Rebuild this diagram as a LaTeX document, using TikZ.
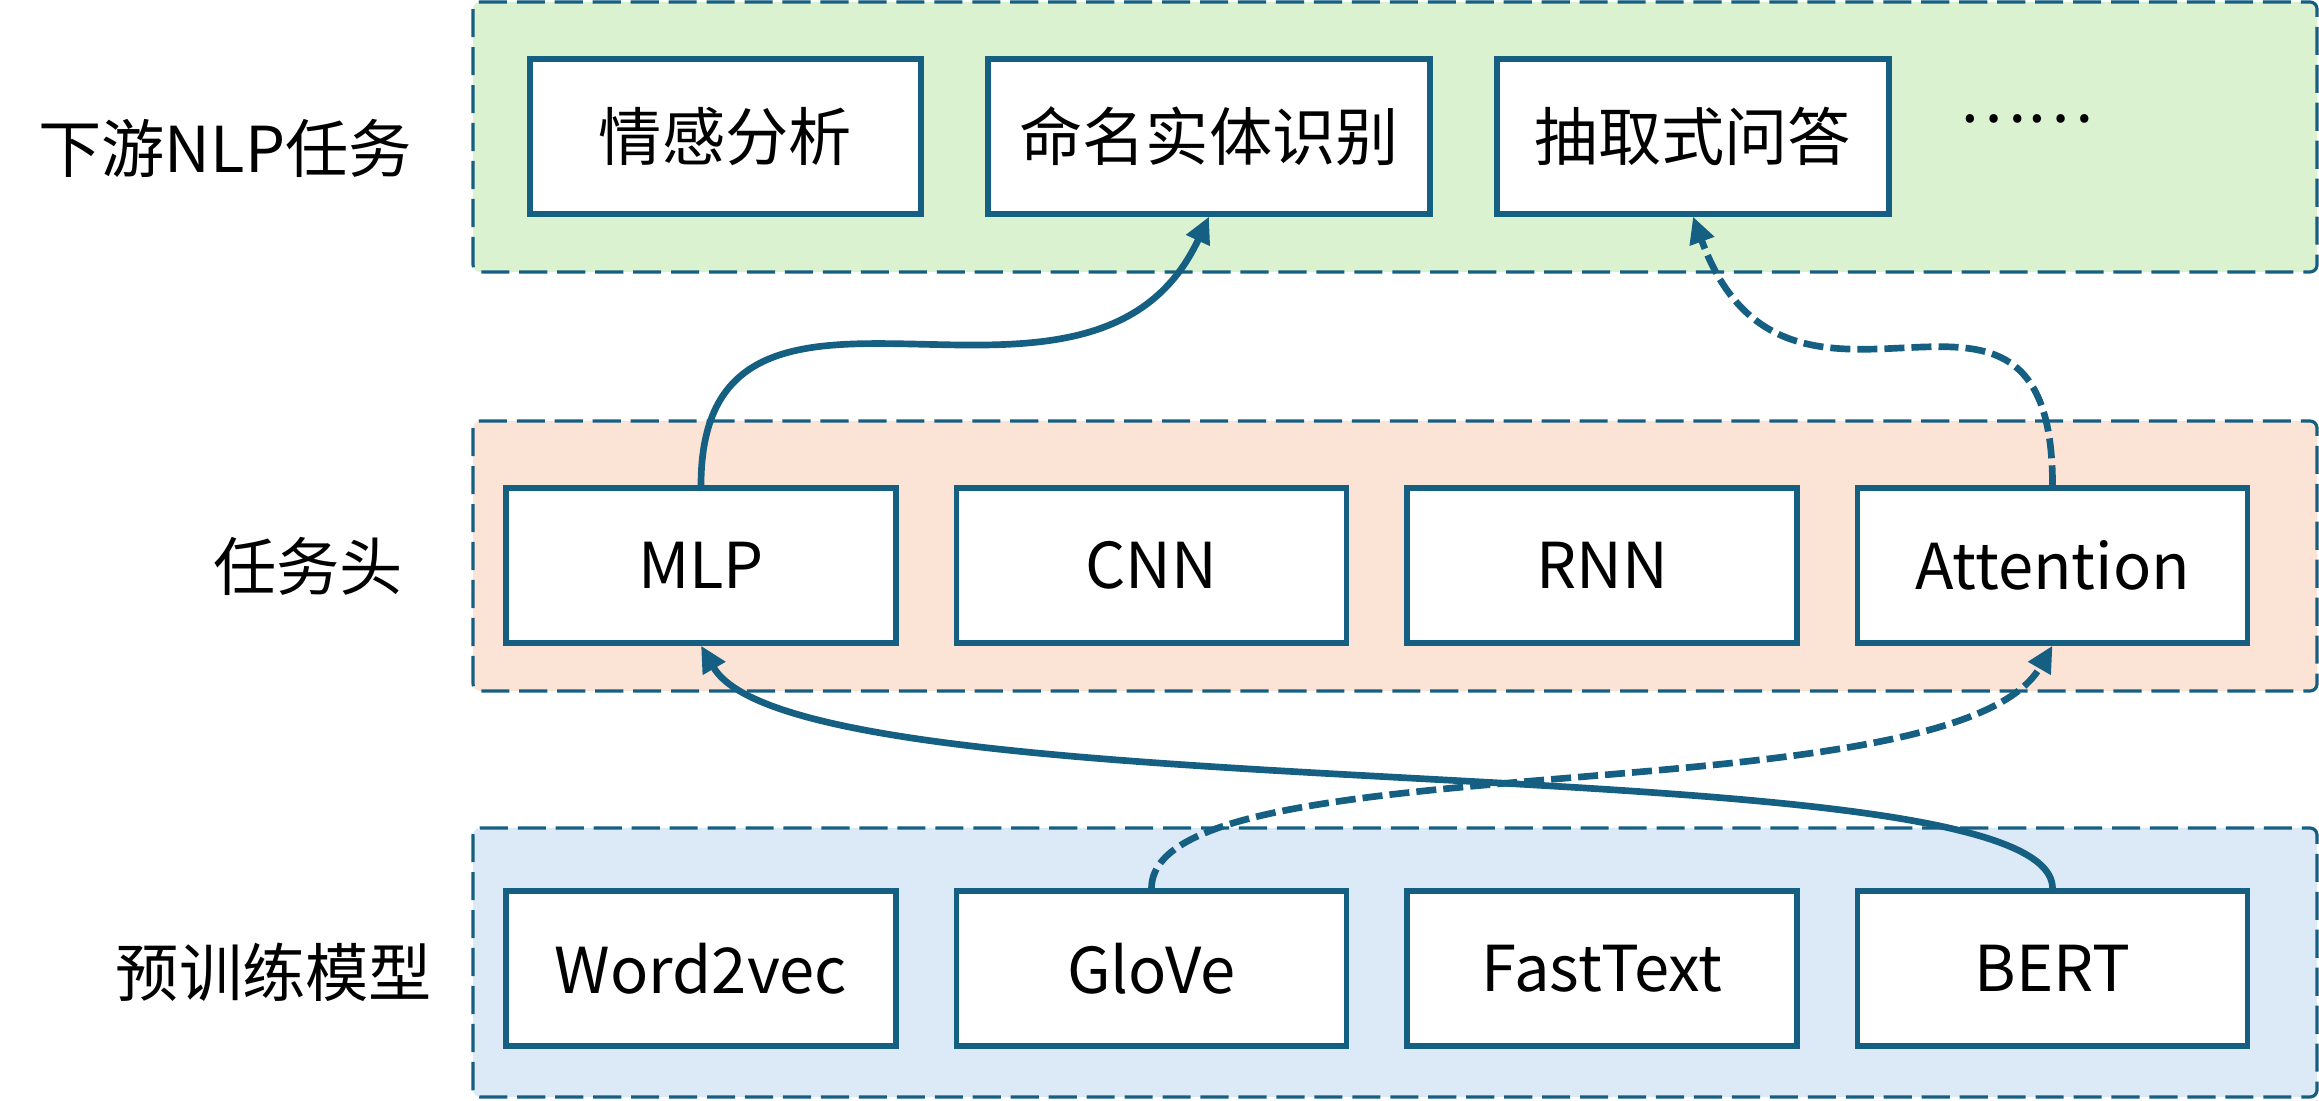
\documentclass[tikz,border=0pt]{standalone}
\usepackage{fontspec}
\setmainfont{Noto Sans CJK SC}
\usetikzlibrary{arrows.meta}

\definecolor{edgeblue}{HTML}{156082}
\definecolor{taskgreen}{HTML}{DAF2D0}
\definecolor{headorange}{HTML}{FBE3D6}
\definecolor{modelblue}{HTML}{DCEAF7}

\tikzset{
  layer/.style={draw=edgeblue, line width=0.9pt, dash pattern=on 8pt off 2.8pt, rounded corners=2pt},
  unitbox/.style={draw=edgeblue, line width=1.5pt, fill=white, minimum height=1.55cm, inner sep=0pt},
  flow/.style={edgeblue, line width=1.9pt, -{Triangle[length=7.5pt,width=7pt]}},
  flowdash/.style={flow, dash pattern=on 5.7pt off 2pt}
}

\begin{document}
\begin{tikzpicture}[font=\fontsize{18}{22}\selectfont]
  \useasboundingbox (0,0) rectangle (23.19,11);

  % Layers
  \draw[layer, fill=taskgreen]  (4.73,8.28) rectangle (23.17,10.98);
  \draw[layer, fill=headorange] (4.73,4.09) rectangle (23.17,6.79);
  \draw[layer, fill=modelblue]  (4.73,0.03) rectangle (23.17,2.72);

  % Layer labels
  \node (lbltask)  at (2.25,9.52) {下游NLP任务};
  \node (lblhead)  at (3.08,5.34) {任务头};
  \node (lblmodel) at (2.74,1.28) {预训练模型};

  % Downstream tasks
  \node[unitbox, minimum width=3.91cm] (senti) at (7.255,9.635) {情感分析};
  \node[unitbox, minimum width=4.42cm] (ner)   at (12.09,9.635) {命名实体识别};
  \node[unitbox, minimum width=3.92cm] (qa)    at (16.93,9.635) {抽取式问答};
  \node (more) at (20.26,9.81) {……};

  % Task heads
  \foreach \name/\x/\txt in {mlp/7.01/MLP, cnn/11.515/CNN, rnn/16.02/RNN, attn/20.525/Attention}
    \node[unitbox, minimum width=3.9cm] (\name) at (\x,5.345) {\txt};

  % Pretrained models
  \foreach \name/\x/\txt in {w2v/7.01/Word2vec, glove/11.515/GloVe, ftext/16.02/FastText, bert/20.525/BERT}
    \node[unitbox, minimum width=3.9cm] (\name) at (\x,1.315) {\txt};

  % Models to heads
  \draw[flow] (bert.north) to[out=90,in=-60,out distance=1.5cm,in distance=2cm] (mlp.south);
  \draw[flowdash] (glove.north) to[out=90,in=-120,out distance=1.5cm,in distance=2cm] (attn.south);

  % Heads to tasks
  \draw[flow] (mlp.north) to[out=90,in=-115,out distance=2.8cm,in distance=2.8cm] (ner.south);
  \draw[flowdash] (attn.north) to[out=90,in=-70,out distance=2.8cm,in distance=2.8cm] (qa.south);
\end{tikzpicture}
\end{document}
